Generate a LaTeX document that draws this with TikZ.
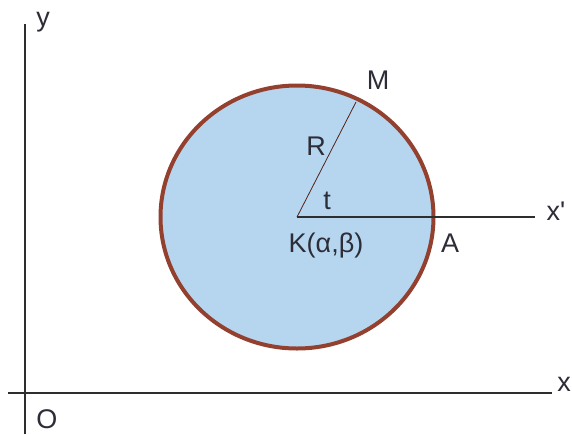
\documentclass[tikz,border=0pt]{standalone}
\usepackage{fontspec}
\setmainfont{Liberation Sans}
\usetikzlibrary{calc}
\definecolor{ink}{HTML}{2D2D38}
\definecolor{axisgray}{HTML}{2E2E2E}
\definecolor{rim}{HTML}{93402F}
\definecolor{discblue}{HTML}{B6D6EF}
\tikzset{
  every node/.style={font=\fontsize{27}{30}\selectfont,text=ink,inner sep=0pt},
  axisline/.style={draw=axisgray,line width=1.3pt},
  disc/.style={draw=rim,line width=4pt,fill=discblue},
  radiusline/.style={draw=rim!55!black,line width=0.8pt}
}

\begin{document}
\begin{tikzpicture}[x=1pt,y=-1pt]
  \useasboundingbox (0,0) rectangle (572,434);
  % axes
  \coordinate (O) at (25,393);
  \coordinate (ytop) at (25,24);
  \coordinate (ybot) at (25,434);
  \coordinate (xleft) at (8,393);
  \coordinate (xright) at (552,393);
  \draw[axisline] (ybot) -- (ytop);
  \draw[axisline] (xleft) -- (xright);

  % circle with centre K
  \coordinate (K) at (297,217);
  \draw[disc] (K) ellipse [x radius=136.5,y radius=131.5];
  \coordinate (M) at (356,102);
  \coordinate (A) at (433,217);
  \coordinate (xp) at (535,217);
  \draw[radiusline] (K) -- (M);
  \draw[axisline] (K) -- (xp);

  % labels
  \node (ylbl) at (43,22) {y};
  \node (olbl) at (47,419) {O};
  \node (xlbl) at (564,384) {x};
  \node (xplbl) at (556,211) {x\textquotesingle};
  \node (mlbl) at (378,80) {M};
  \node (rlbl) at (316,146) {R};
  \node (tlbl) at (327,201) {t};
  \node (klbl) at (326,246) {K(α,β)};
  \node (albl) at (450,243) {A};
\end{tikzpicture}
\end{document}
